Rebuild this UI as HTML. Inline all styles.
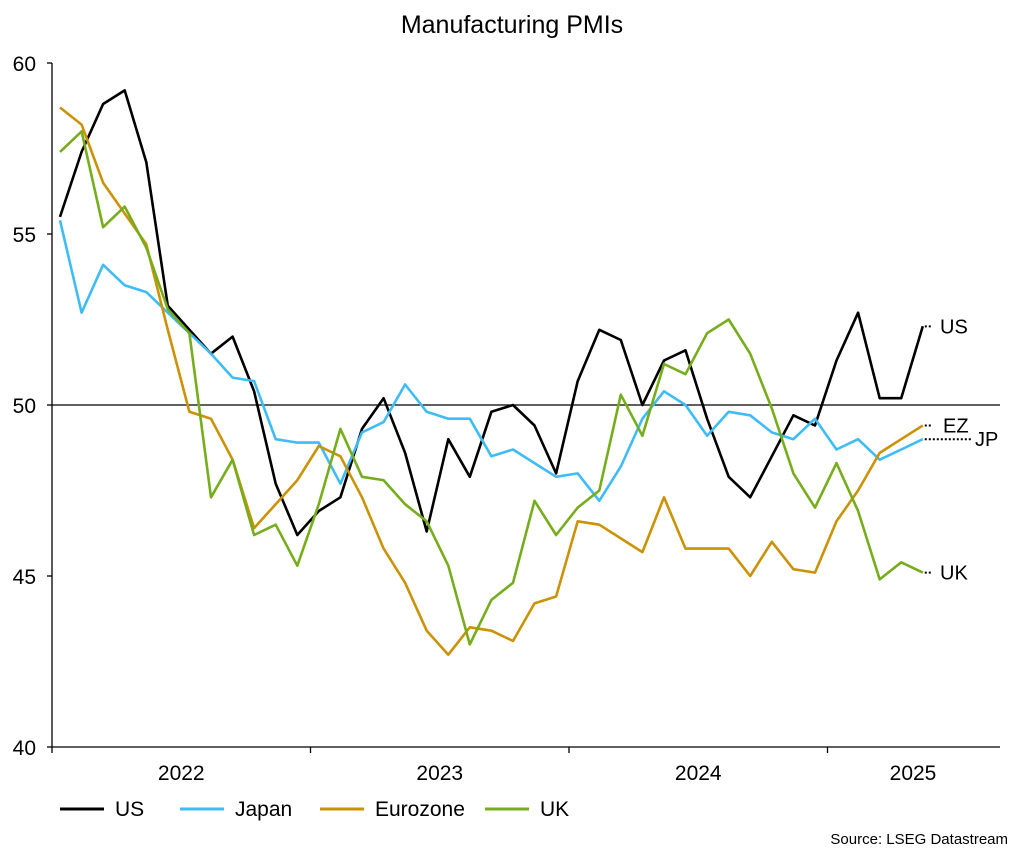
<!DOCTYPE html>
<html><head><meta charset="utf-8">
<style>
body{margin:0;background:#fff;}
svg text{font-family:"Liberation Sans",Arial,sans-serif;}
</style></head>
<body>
<svg id="chart" width="1024" height="857" xmlns="http://www.w3.org/2000/svg">
<text x="512" y="33" font-size="25" text-anchor="middle">Manufacturing PMIs</text>
<g id="axes"></g>
<g id="series"></g>
<g id="legend"></g>
<text x="1008" y="844" font-size="15" text-anchor="end">Source: LSEG Datastream</text>
</svg>
<script>
const yTicks=[40,45,50,55,60];
const yearLabels=["2022","2023","2024","2025"];
const seriesNames=["US","Japan","Eurozone","UK"];
const endLabels=["US","JP","EZ","UK"];
const usData=[55.5,57.4,58.8,59.2,57.1,52.9,52.2,51.5,52.0,50.4,47.7,46.2,46.9,47.3,49.3,50.2,48.6,46.3,49.0,47.9,49.8,50.0,49.4,48.0,50.7,52.2,51.9,50.0,51.3,51.6,49.6,47.9,47.3,48.5,49.7,49.4,51.3,52.7,50.2,50.2,52.3];
const jpData=[55.4,52.7,54.1,53.5,53.3,52.7,52.1,51.5,50.8,50.7,49.0,48.9,48.9,47.7,49.2,49.5,50.6,49.8,49.6,49.6,48.5,48.7,48.3,47.9,48.0,47.2,48.2,49.6,50.4,50.0,49.1,49.8,49.7,49.2,49.0,49.6,48.7,49.0,48.4,48.7,49.0];
const ezData=[58.7,58.2,56.5,55.6,54.7,52.2,49.8,49.6,48.4,46.4,47.1,47.8,48.8,48.5,47.3,45.8,44.8,43.4,42.7,43.5,43.4,43.1,44.2,44.4,46.6,46.5,46.1,45.7,47.3,45.8,45.8,45.8,45.0,46.0,45.2,45.1,46.6,47.5,48.6,49.0,49.4];
const ukData=[57.4,58.0,55.2,55.8,54.6,52.8,52.1,47.3,48.4,46.2,46.5,45.3,47.1,49.3,47.9,47.8,47.1,46.6,45.3,43.0,44.3,44.8,47.2,46.2,47.0,47.5,50.3,49.1,51.2,50.9,52.1,52.5,51.5,49.9,48.0,47.0,48.3,46.9,44.9,45.4,45.1];

const NS="http://www.w3.org/2000/svg";
const X0=52,X1=1000,Y60=63,Y40=747;
const yS=v=>Y40-(v-40)*(Y40-Y60)/20;
const xS=i=>60+i*21.57;
function mk(tag,attrs,parent){const e=document.createElementNS(NS,tag);for(const k in attrs)e.setAttribute(k,attrs[k]);parent.appendChild(e);return e;}
const axes=document.getElementById('axes');
let e=mk('line',{x1:X0,y1:Y60,x2:X0,y2:Y40,stroke:'#000','stroke-width':1.3},axes);


e=mk('line',{x1:X0,y1:Y40,x2:X1,y2:Y40,stroke:'#000','stroke-width':1.3},axes);


e=mk('line',{x1:X0,y1:yS(50),x2:X1,y2:yS(50),stroke:'#000','stroke-width':1.2},axes);


yTicks.forEach(v=>{
  const t=mk('line',{x1:X0-5,y1:yS(v),x2:X0,y2:yS(v),stroke:'#000','stroke-width':1.3},axes);
  
  
  const l=mk('text',{x:36,y:yS(v)+8,'font-size':21,'text-anchor':'end'},axes);
  l.textContent=v;
  
  
});
const yearW=258.5;
for(let k=0;k<=3;k++){
  const t=mk('line',{x1:X0+k*yearW,y1:Y40,x2:X0+k*yearW,y2:Y40+6,stroke:'#000','stroke-width':1.3},axes);
  
  
}
yearLabels.forEach((y,k)=>{
  const cx=k<3?X0+(k+0.5)*yearW:913;
  const l=mk('text',{x:cx,y:780,'font-size':21,'text-anchor':'middle'},axes);
  l.textContent=y;
  
  
});
const colors=['#000000','#3fbcf7','#cc9206','#77ad1c'];
const datas=[usData,jpData,ezData,ukData];
const sg=document.getElementById('series');
datas.forEach((d,s)=>{
  const p=mk('polyline',{points:d.map((v,i)=>xS(i).toFixed(1)+','+yS(v).toFixed(1)).join(' '),fill:'none',stroke:colors[s],'stroke-width':2.6,'stroke-linejoin':'round'},sg);
  
  
});
// end labels
const lastX=xS(usData.length-1);
const endVals=[usData[usData.length-1],jpData[jpData.length-1],ezData[ezData.length-1],ukData[ukData.length-1]];
const stubLen=[8,46,8,8];
const lblX=[940,975,943,940];
const lblDY=[0,0,0,0];
endVals.forEach((v,s)=>{
  const y=yS(v);
  const st=mk('line',{x1:lastX+2,y1:y,x2:lastX+2+stubLen[s],y2:y,stroke:'#000','stroke-width':2,'stroke-dasharray':'2,2'},sg);
  
  
  const t=mk('text',{x:lblX[s],y:y+7+lblDY[s],'font-size':20},sg);
  t.textContent=endLabels[s];
  
  
});
// legend
const lg=document.getElementById('legend');
const lgX=[60,180,320,485];
seriesNames.forEach((n,s)=>{
  const l=mk('line',{x1:lgX[s],y1:809,x2:lgX[s]+44,y2:809,stroke:colors[s],'stroke-width':3},lg);
  
  
  const t=mk('text',{x:lgX[s]+55,y:816,'font-size':21},lg);
  t.textContent=n;
  
  
});
</script>
</body></html>
